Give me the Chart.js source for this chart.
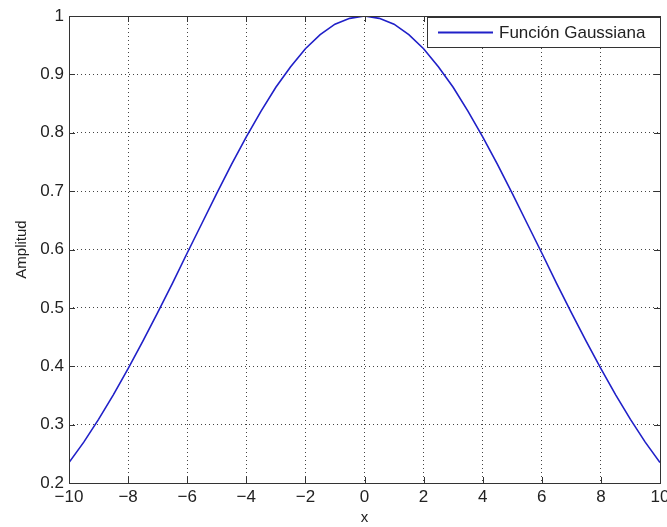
<!DOCTYPE html>
<html>
<head>
<meta charset="utf-8">
<script src="https://cdn.jsdelivr.net/npm/chart.js@4.4.1/dist/chart.umd.min.js"></script>
<style>
  html, body { margin: 0; padding: 0; background: #ffffff; }
  #wrap { width: 667px; height: 527px; }
</style>
</head>
<body>
<div id="wrap"><canvas id="chart-1" width="667" height="527"></canvas></div>
<script>
// values
var xValues = [-10, -9.5, -9, -8.5, -8, -7.5, -7, -6.5, -6, -5.5, -5, -4.5, -4, -3.5, -3, -2.5, -2, -1.5, -1, -0.5,
    0, 0.5, 1, 1.5, 2, 2.5, 3, 3.5, 4, 4.5, 5, 5.5, 6, 6.5, 7, 7.5, 8, 8.5, 9, 9.5, 10];
var amplitud = [0.235, 0.270, 0.309, 0.351, 0.396, 0.443, 0.492, 0.542, 0.594, 0.645, 0.696, 0.746, 0.793, 0.837, 0.878, 0.913, 0.944, 0.968, 0.986, 0.996,
    1.000, 0.996, 0.986, 0.968, 0.944, 0.913, 0.878, 0.837, 0.793, 0.746, 0.696, 0.645, 0.594, 0.542, 0.492, 0.443, 0.396, 0.351, 0.309, 0.270, 0.235];
var xTicks = [-10, -8, -6, -4, -2, 0, 2, 4, 6, 8, 10];
var yTicks = [0.2, 0.3, 0.4, 0.5, 0.6, 0.7, 0.8, 0.9, 1];
var seriesLabel = 'Función Gaussiana';

var points = xValues.map(function (x, i) { return { x: x, y: amplitud[i] }; });
var lineColor = 'rgb(32, 32, 200)';
var fontFamily = '"Liberation Sans", Arial, sans-serif';

// box around the plot, inward tick marks, legend inside
var matlabFrame = {
    id: 'matlabFrame',
    afterDraw: function (chart) {
        var ctx = chart.ctx;
        var a = chart.chartArea;
        var xs = chart.scales.x, ys = chart.scales.y;
        ctx.save();
        ctx.strokeStyle = '#333333';
        ctx.lineWidth = 1;
        ctx.beginPath();
        xTicks.forEach(function (t) {
            var px = Math.round(xs.getPixelForValue(t)) + 0.5;
            ctx.moveTo(px, a.bottom); ctx.lineTo(px, a.bottom - 6);
            ctx.moveTo(px, a.top); ctx.lineTo(px, a.top + 6);
        });
        yTicks.forEach(function (t) {
            var py = Math.round(ys.getPixelForValue(t)) + 0.5;
            ctx.moveTo(a.left, py); ctx.lineTo(a.left + 6, py);
            ctx.moveTo(a.right, py); ctx.lineTo(a.right - 6, py);
        });
        ctx.stroke();
        ctx.strokeRect(Math.round(a.left) + 0.5, Math.round(a.top) + 0.5,
            Math.round(a.right - a.left), Math.round(a.bottom - a.top));

        // legend
        var bx = 427.5, by = 17.5, bw = 233, bh = 30;
        ctx.fillStyle = '#ffffff';
        ctx.fillRect(bx, by, bw, bh);
        ctx.strokeStyle = '#333333';
        ctx.strokeRect(bx, by, bw, bh);
        ctx.strokeStyle = lineColor;
        ctx.lineWidth = 2;
        ctx.beginPath();
        ctx.moveTo(438, by + bh / 2);
        ctx.lineTo(493, by + bh / 2);
        ctx.stroke();
        ctx.fillStyle = '#222222';
        ctx.font = '17px ' + fontFamily;
        ctx.textBaseline = 'middle';
        ctx.textAlign = 'left';
        ctx.fillText(seriesLabel, 499, by + bh / 2 + 1);
        ctx.restore();
    }
};

var config_1 = {
    type: 'line',

    data: {
        datasets: [{
            label: seriesLabel,
            data: points,
            borderColor: lineColor,
            backgroundColor: lineColor,
            borderWidth: 1.6,
            pointRadius: 0,
            tension: 0,
            fill: false
        }]
    },

    options: {
        responsive: false,
        animation: false,
        layout: { padding: { top: 16, right: 7, left: 0, bottom: 0 } },
        plugins: {
            legend: { display: false },
            tooltip: { enabled: false }
        },
        scales: {
            x: {
                type: 'linear',
                min: -10,
                max: 10,
                afterBuildTicks: function (s) { s.ticks = xTicks.map(function (v) { return { value: v }; }); },
                afterFit: function (s) { s.height = 44; s.paddingRight = 0; s.paddingLeft = 0; },
                ticks: {
                    color: '#222222',
                    font: { family: fontFamily, size: 17 },
                    padding: 4,
                    maxRotation: 0,
                    callback: function (v) { return String(v).replace('-', '\u2212'); }
                },
                grid: {
                    color: '#444444',
                    lineWidth: 1,
                    drawTicks: false
                },
                border: { display: false, dash: [1, 3] },
                title: {
                    display: true,
                    text: 'x',
                    color: '#222222',
                    font: { family: fontFamily, size: 15 },
                    padding: { top: -4, bottom: 0 }
                }
            },
            y: {
                min: 0.2,
                max: 1,
                afterBuildTicks: function (s) { s.ticks = yTicks.map(function (v) { return { value: v }; }); },
                afterFit: function (s) { s.width = 69; },
                ticks: {
                    color: '#222222',
                    font: { family: fontFamily, size: 17 },
                    padding: 5,
                    callback: function (v) { return String(Math.round(v * 10) / 10); }
                },
                grid: {
                    color: '#444444',
                    lineWidth: 1,
                    drawTicks: false
                },
                border: { display: false, dash: [1, 3] },
                title: {
                    display: true,
                    text: 'Amplitud',
                    color: '#222222',
                    font: { family: fontFamily, size: 15 },
                    padding: { top: 13, bottom: 0 }
                }
            }
        }
    },
    plugins: [matlabFrame]
};

var Chart_1 = document.getElementById('chart-1').getContext('2d');
new Chart(Chart_1, config_1);
</script>
</body>
</html>
